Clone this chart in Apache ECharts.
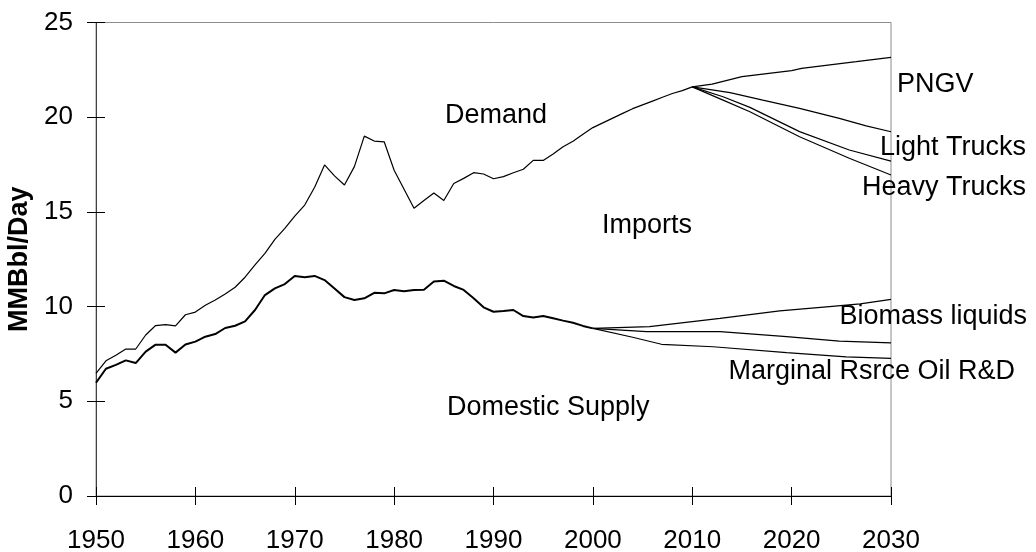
<!DOCTYPE html>
<html>
<head>
<meta charset="utf-8">
<script src="https://cdn.jsdelivr.net/npm/echarts@6/dist/echarts.min.js"></script>
<style>
    html, body { margin: 0; padding: 0; background: #fff; }
    #chart { width: 1036px; height: 552px; }
</style>
</head>
<body>
<div id="chart"></div>
<script>
// historical demand, 1950-2010
const demandYears = [1950, 1951, 1952, 1953, 1954, 1955, 1956, 1957, 1958, 1959,
    1960, 1961, 1962, 1963, 1964, 1965, 1966, 1967, 1968, 1969,
    1970, 1971, 1972, 1973, 1974, 1975, 1976, 1977, 1978, 1979,
    1980, 1981, 1982, 1983, 1984, 1985, 1986, 1987, 1988, 1989,
    1990, 1991, 1992, 1993, 1994, 1995, 1996, 1997, 1998, 1999,
    2000, 2001, 2002, 2003, 2004, 2005, 2006, 2007, 2008, 2009, 2010];
const demandValues = [6.48, 7.14, 7.43, 7.76, 7.76, 8.5, 9.0, 9.05, 8.98, 9.57,
    9.71, 10.07, 10.35, 10.67, 11.02, 11.55, 12.2, 12.81, 13.55, 14.13,
    14.78, 15.36, 16.3, 17.48, 16.9, 16.42, 17.39, 19.0, 18.74, 18.7,
    17.2, 16.2, 15.19, 15.6, 16.0, 15.6, 16.5, 16.77, 17.07, 17.0,
    16.75, 16.86, 17.07, 17.25, 17.72, 17.72, 18.06, 18.44, 18.73, 19.1,
    19.45, 19.7, 19.95, 20.2, 20.45, 20.65, 20.85, 21.05, 21.25, 21.4, 21.6];

// historical domestic supply, 1950-2000
const supplyYears = [1950, 1951, 1952, 1953, 1954, 1955, 1956, 1957, 1958, 1959,
    1960, 1961, 1962, 1963, 1964, 1965, 1966, 1967, 1968, 1969,
    1970, 1971, 1972, 1973, 1974, 1975, 1976, 1977, 1978, 1979,
    1980, 1981, 1982, 1983, 1984, 1985, 1986, 1987, 1988, 1989,
    1990, 1991, 1992, 1993, 1994, 1995, 1996, 1997, 1998, 1999, 2000];
const supplyValues = [5.98, 6.72, 6.92, 7.16, 7.02, 7.62, 7.99, 7.99, 7.57, 8.0,
    8.15, 8.41, 8.55, 8.87, 8.99, 9.22, 9.82, 10.61, 10.96, 11.19,
    11.62, 11.55, 11.62, 11.4, 10.95, 10.5, 10.35, 10.44, 10.73, 10.7,
    10.88, 10.81, 10.88, 10.89, 11.32, 11.37, 11.09, 10.88, 10.44, 9.96,
    9.73, 9.77, 9.82, 9.5, 9.42, 9.5, 9.38, 9.26, 9.15, 8.98, 8.85];

// demand projections 2010-2030
const baseDemandYears = [2010, 2012, 2015, 2020, 2021, 2026.5, 2030];
const baseDemandValues = [21.6, 21.75, 22.14, 22.46, 22.58, 22.93, 23.16];
const pngvYears = [2010, 2013.8, 2017.1, 2020.8, 2024.8, 2027.5, 2030];
const pngvValues = [21.6, 21.3, 20.9, 20.47, 19.94, 19.54, 19.23];
const lightTruckYears = [2010, 2013.1, 2015.8, 2020.8, 2025.8, 2030];
const lightTruckValues = [21.6, 21.08, 20.52, 19.24, 18.27, 17.68];
const heavyTruckYears = [2010, 2013.1, 2015.8, 2020.8, 2025.8, 2030];
const heavyTruckValues = [21.6, 20.9, 20.29, 18.97, 17.83, 16.95];

// domestic supply projections 2000-2030
const biomassYears = [2000, 2005.7, 2012.8, 2018.8, 2023.8, 2026.9, 2030];
const biomassValues = [8.85, 8.94, 9.38, 9.77, 10.0, 10.14, 10.38];
const oilRdYears = [2000, 2005.4, 2012.8, 2019.5, 2024.8, 2030];
const oilRdValues = [8.85, 8.68, 8.68, 8.41, 8.18, 8.09];
const baseSupplyYears = [2000, 2004, 2006.9, 2012.1, 2019.5, 2025.5, 2030];
const baseSupplyValues = [8.85, 8.38, 8.01, 7.88, 7.57, 7.35, 7.27];

const xTicks = [1950, 2030, 10];
const yTicks = [0, 25, 5];

function pairs(xs, ys) {
    return xs.map((x, i) => [x, ys[i]]);
}

function line(name, xs, ys, width) {
    return {
        name: name,
        type: "line",
        data: pairs(xs, ys),
        showSymbol: false,
        silent: true,
        lineStyle: { color: "#000", width: width },
        z: 3,
    };
}

const font = "Liberation Sans, Arial, sans-serif";

// 图上的文字标注
function note(text, x, y, align) {
    return {
        type: "text",
        x: x,
        y: y,
        style: {
            text: text,
            fill: "#000",
            font: "27px " + font,
            textAlign: align || "left",
            textVerticalAlign: "middle",
        },
        z: 10,
    };
}

const chart = echarts.init(document.getElementById("chart"));

const axisBase = {
    type: "value",
    splitLine: { show: false },
};

chart.setOption({
    animation: false,
    backgroundColor: "#fff",
    grid: {
        left: 96,
        right: 145,
        top: 22.5,
        bottom: 56,
        outerBoundsMode: "none",
        containLabel: false,
        show: true,
        borderColor: "#8c8c8c",
        borderWidth: 1,
    },
    xAxis: [
        Object.assign({}, axisBase, {
            min: xTicks[0],
            max: xTicks[1],
            interval: xTicks[2],
            position: "bottom",
            axisLine: { lineStyle: { color: "#000", width: 1 } },
            axisTick: { show: true, inside: false, length: 9, lineStyle: { color: "#000" } },
            axisLabel: {
                color: "#000",
                fontSize: 26,
                fontFamily: font,
                margin: 32,
                formatter: (v) => String(v),
            },
        }),
        Object.assign({}, axisBase, {
            min: xTicks[0],
            max: xTicks[1],
            interval: xTicks[2],
            position: "bottom",
            axisLine: { show: false },
            axisTick: { show: true, inside: true, length: 9, lineStyle: { color: "#000" } },
            axisLabel: { show: false },
        }),
    ],
    yAxis: [
        Object.assign({}, axisBase, {
            min: yTicks[0],
            max: yTicks[1],
            interval: yTicks[2],
            position: "left",
            name: "MMBbl/Day",
            nameLocation: "middle",
            nameGap: 54,
            nameTextStyle: { color: "#000", fontSize: 27, fontWeight: "bold", fontFamily: font },
            axisLine: { show: true, lineStyle: { color: "#404040", width: 1 } },
            axisTick: { show: true, inside: false, length: 9, lineStyle: { color: "#000" } },
            axisLabel: { color: "#000", fontSize: 26, fontFamily: font, margin: 23 },
        }),
        Object.assign({}, axisBase, {
            min: yTicks[0],
            max: yTicks[1],
            interval: yTicks[2],
            position: "left",
            axisLine: { show: false },
            axisTick: { show: true, inside: true, length: 9, lineStyle: { color: "#000" } },
            axisLabel: { show: false },
        }),
    ],
    series: [
        line("Demand", demandYears, demandValues, 1.2),
        line("Base demand", baseDemandYears, baseDemandValues, 1.2),
        line("PNGV", pngvYears, pngvValues, 1.2),
        line("Light Trucks", lightTruckYears, lightTruckValues, 1.2),
        line("Heavy Trucks", heavyTruckYears, heavyTruckValues, 1.2),
        line("Domestic Supply", supplyYears, supplyValues, 2),
        line("Biomass liquids", biomassYears, biomassValues, 1.2),
        line("Marginal Rsrce Oil R&D", oilRdYears, oilRdValues, 1.2),
        line("Base supply", baseSupplyYears, baseSupplyValues, 1.2),
    ],
    graphic: [
        note("Demand", 445, 116),
        note("Imports", 602, 226),
        note("Domestic Supply", 447, 408),
        note("PNGV", 897, 85),
        note("Light Trucks", 1026, 148, "right"),
        note("Heavy Trucks", 1026, 188, "right"),
        note("Biomass liquids", 1027, 317, "right"),
        note("Marginal Rsrce Oil R&D", 1015, 372, "right"),
    ],
});
</script>
</body>
</html>
